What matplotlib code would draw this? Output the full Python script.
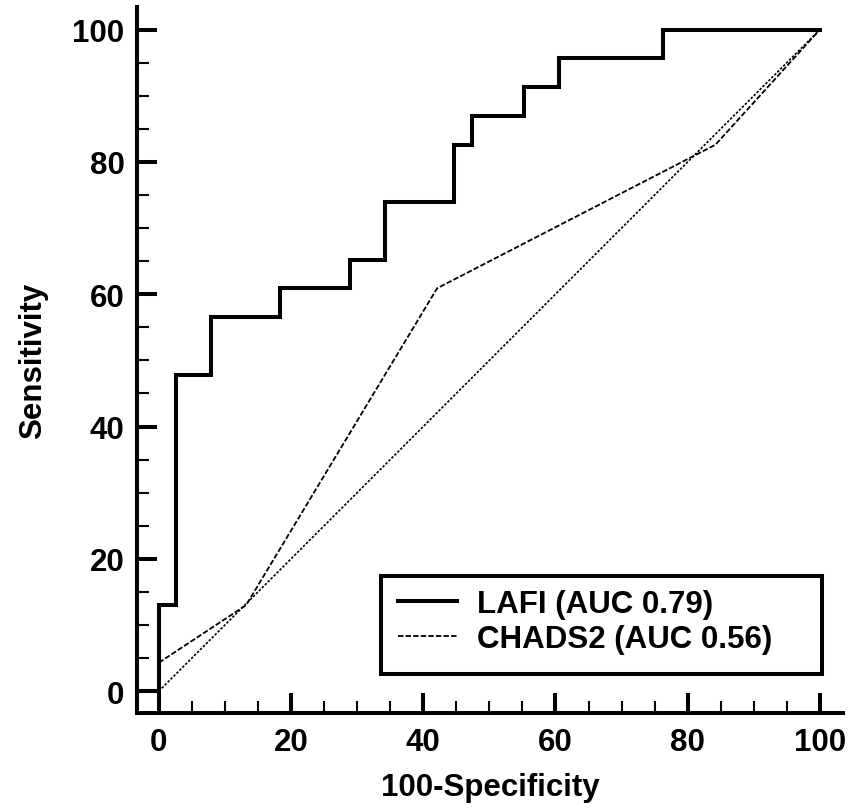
import numpy as np
import matplotlib
matplotlib.use("Agg")
import matplotlib.pyplot as plt
from matplotlib.patches import Rectangle
from matplotlib.ticker import MultipleLocator

# ---------- Data ----------
# LAFI ROC curve, step vertices (steps-post): 100-specificity vs sensitivity
LAFI_FPR = [-3.3, 0.0, 2.6, 7.9, 18.4, 28.9, 34.2, 44.7, 47.4, 55.3, 60.5, 76.3, 100.0]
LAFI_TPR = [0.0, 13.0, 47.8, 56.5, 60.9, 65.2, 73.9, 82.6, 87.0, 91.3, 95.7, 100.0, 100.0]

# CHADS2 ROC curve (piecewise linear)
CHADS_FPR = [0.0, 13.2, 42.1, 84.2, 100.0]
CHADS_TPR = [4.3, 13.0, 60.9, 82.6, 100.0]

# chance diagonal
DIAG = [0.0, 100.0]

LABELS = ["LAFI (AUC 0.79)", "CHADS2 (AUC 0.56)"]
TICKS = [0, 20, 40, 60, 80, 100]

# ---------- Style ----------
FONT = "Liberation Sans"
FS = 22.5
LW = 2.9

plt.rcParams["font.family"] = [FONT, "DejaVu Sans"]
plt.rcParams["font.weight"] = "bold"

fig = plt.figure(figsize=(8.53, 8.12), dpi=100)
ax = fig.add_axes([0.1606, 0.1207, 0.8277, 0.8693])

ax.plot(LAFI_FPR, LAFI_TPR, drawstyle="steps-post", color="black", lw=LW,
        solid_joinstyle="miter", label=LABELS[0])
ax.plot(CHADS_FPR, CHADS_TPR, color="black", lw=1.3, linestyle=(0, (3, 1.2)),
        label=LABELS[1])
ax.plot(DIAG, DIAG, color="black", lw=1.2, linestyle=(0, (1.5, 1.0)))

ax.set_xlim(-3.3, 103.5)
ax.set_ylim(-3.3, 103.4)

for side in ["top", "right"]:
    ax.spines[side].set_visible(False)
for side in ["left", "bottom"]:
    ax.spines[side].set_linewidth(LW)

ax.set_xticks(TICKS)
ax.set_yticks(TICKS)
ax.xaxis.set_minor_locator(MultipleLocator(5))
ax.yaxis.set_minor_locator(MultipleLocator(5))
ax.tick_params(which="major", direction="in", length=14.5, width=LW,
               labelsize=FS, pad=10)
ax.tick_params(which="minor", direction="in", length=8.5, width=1.5)
ax.tick_params(axis="y", which="major", pad=9)
for lbl in ax.get_xticklabels() + ax.get_yticklabels():
    lbl.set_fontweight("bold")

ax.set_xlabel("100-Specificity", fontsize=FS, fontweight="bold", va="center")
ax.set_ylabel("Sensitivity", fontsize=FS, fontweight="bold", va="center")
ax.xaxis.set_label_coords(0.5, -0.105)
ax.yaxis.set_label_coords(-0.147, 0.5)

# legend box drawn separately: the original has wide right padding
ax.add_patch(Rectangle((0.3456, 0.0552), 0.6244, 0.1388, transform=ax.transAxes,
                       facecolor="white", edgecolor="black", lw=LW, zorder=4))
leg = ax.legend(loc="center left", bbox_to_anchor=(0.3697, 0.130),
                prop={"weight": "bold", "size": FS}, frameon=False,
                handlelength=1.9, handletextpad=0.62, labelspacing=0.17,
                borderpad=0.0, borderaxespad=0.0)
leg.set_zorder(5)

fig.savefig("out.png", dpi=100)
